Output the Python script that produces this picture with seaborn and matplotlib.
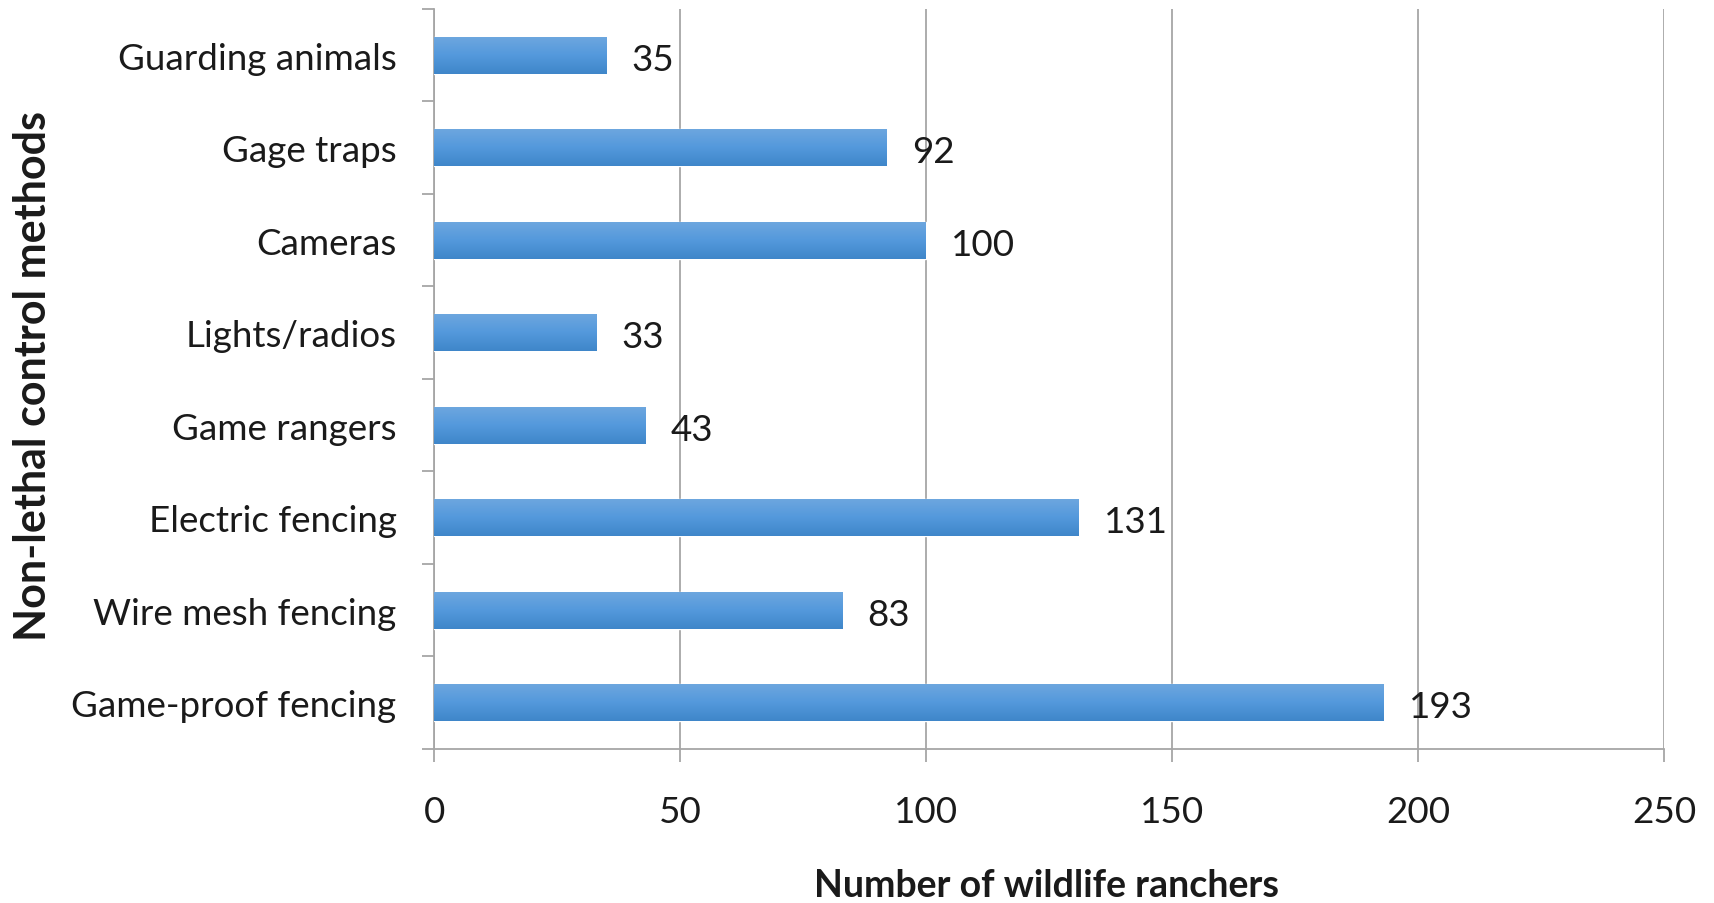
import numpy as np
import pandas as pd
import matplotlib
matplotlib.use("Agg")
import matplotlib.pyplot as plt
from matplotlib.ticker import FixedLocator
import seaborn as sns

methods = ["Guarding animals", "Gage traps", "Cameras", "Lights/radios",
           "Game rangers", "Electric fencing", "Wire mesh fencing",
           "Game-proof fencing"]
ranchers = [35, 92, 100, 33, 43, 131, 83, 193]
x_ticks = [0, 50, 100, 150, 200, 250]

sns.set_theme(style="white")
plt.rcParams["font.family"] = ["Lato", "DejaVu Sans"]

df = pd.DataFrame({"method": methods, "ranchers": ranchers})

fig = plt.figure(figsize=(17.15, 9.04), dpi=100)
ax = fig.add_axes([0.2531, 0.1704, 0.9703 - 0.2531, 0.989 - 0.1704])

sns.barplot(data=df, y="method", x="ranchers", orient="h", color="#4f93d8",
            saturation=1, width=0.4, ax=ax, zorder=3)

# vertical gradient on each bar, lighter at the top
grad = np.linspace(0, 1, 64).reshape(-1, 1)
cmap = matplotlib.colors.LinearSegmentedColormap.from_list(
    "barfill", ["#6ea7df", "#5499dc", "#3f86c9"])
for patch in ax.patches:
    x0, y0 = patch.get_x(), patch.get_y()
    w, h = patch.get_width(), patch.get_height()
    im = ax.imshow(grad, cmap=cmap, aspect="auto", zorder=3.5,
                   extent=[x0, x0 + w, y0 + h, y0], origin="upper",
                   interpolation="bilinear")
    im.set_clip_path(patch)

ax.set_xlim(0, 250)
ax.set_ylim(len(methods) - 0.5, -0.5)
ax.set_xticks(x_ticks)
ax.set_xticklabels([str(t) for t in x_ticks])

ax.grid(axis="x", color="#a6a6a6", linewidth=1.3, zorder=0)
ax.grid(axis="y", visible=False)

ax.spines["top"].set_visible(False)
ax.spines["right"].set_visible(False)
for side in ["left", "bottom"]:
    ax.spines[side].set_color("#a6a6a6")
    ax.spines[side].set_linewidth(1.3)

# category labels centred, tick marks at category boundaries
ax.tick_params(axis="y", which="major", length=0, pad=27, labelsize=26.5,
               labelcolor="#1a1a1a")
ax.yaxis.set_minor_locator(FixedLocator(np.arange(-0.5, len(methods), 1.0)))
ax.tick_params(axis="y", which="minor", left=True, length=9, width=1.3,
               color="#a6a6a6")
ax.tick_params(axis="x", which="major", bottom=True, length=9, width=1.3,
               color="#a6a6a6", pad=24, labelsize=26.5, labelcolor="#1a1a1a")

for i, v in enumerate(ranchers):
    ax.annotate(str(v), xy=(v, i), xytext=(18, -3), textcoords="offset points",
                ha="left", va="center", fontsize=26.5, color="#1a1a1a",
                zorder=5)

ax.set_xlabel("Number of wildlife ranchers", fontsize=27, fontweight="bold",
              color="#1a1a1a", va="center")
ax.set_ylabel("Non-lethal control methods", fontsize=31, fontweight="bold",
              color="#1a1a1a", va="center")
ax.xaxis.set_label_coords(0.498, -0.184)
ax.yaxis.set_label_coords(-0.326, 0.505)

fig.savefig("out.png", dpi=100)
